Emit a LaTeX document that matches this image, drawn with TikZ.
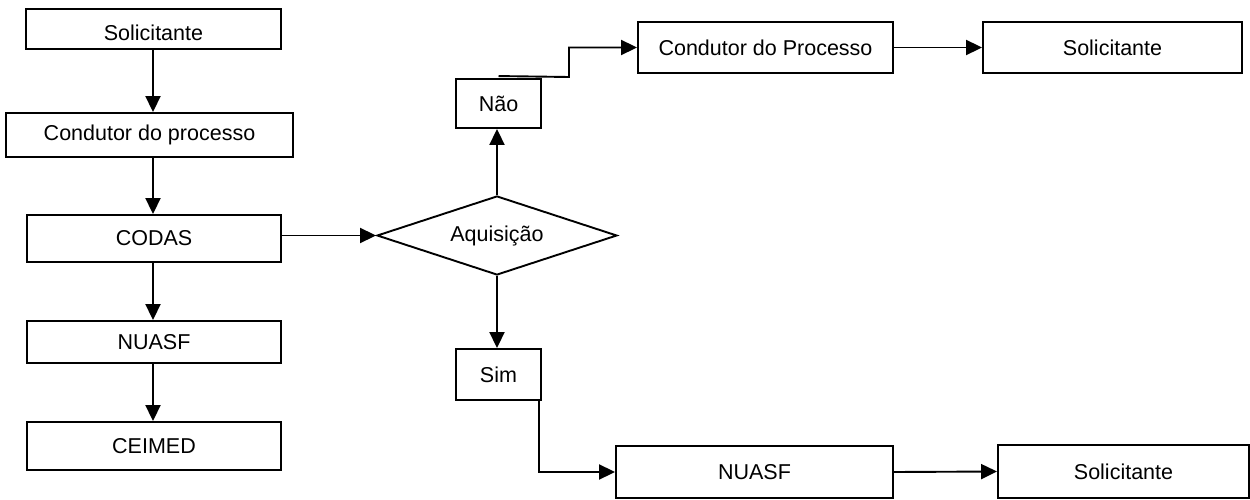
\documentclass[tikz,border=0pt]{standalone}
\usepackage{fontspec}
\setmainfont{Liberation Sans}
\usetikzlibrary{shapes.geometric,arrows.meta}
\begin{document}
\begin{tikzpicture}[x=1pt,y=-1pt,
  font=\fontsize{21.5}{25}\selectfont,
  box/.style={draw=black,line width=1.9pt,inner sep=0pt,minimum width=#1},
  conn/.style={line width=1.9pt,-{Triangle[length=16pt,width=15pt]}},
  plain/.style={line width=1.9pt}]
\useasboundingbox (0,0) rectangle (1250,500);
% left column
\node[box=255pt,minimum height=40pt,text height=23.5pt,text depth=0pt] (s1) at (153.5,29) {Solicitante};
\node[box=287pt,minimum height=44pt] (c1) at (149.5,135) {Condutor do processo};
\node[box=254pt,minimum height=47pt] (codas) at (154,238.5) {CODAS};
\node[box=254pt,minimum height=42pt] (nu1) at (154,342) {NUASF};
\node[box=254pt,minimum height=48pt] (ceimed) at (154,446) {CEIMED};
% decision
\node[draw=black,line width=1.9pt,shape=diamond,aspect=3.04,inner sep=0pt,
      minimum width=240pt,minimum height=79pt] (dia) at (497,235.5) {Aquisição};
\node[box=85pt,minimum height=49pt] (nao) at (498.5,103.5) {Não};
\node[box=85pt,minimum height=51pt] (sim) at (498.5,374.5) {Sim};
% right side
\node[box=255pt,minimum height=51pt] (cp2) at (765.5,47.5) {Condutor do Processo};
\node[box=259pt,minimum height=51pt] (s2) at (1112.5,47.5) {Solicitante};
\node[box=277pt,minimum height=52pt] (nu2) at (754.5,472) {NUASF};
\node[box=251pt,minimum height=53pt] (s3) at (1123.5,471.5) {Solicitante};
\coordinate (nbend) at (569,77);
% connectors
\draw[conn] (s1.south -| 153,0) -- (c1.north -| 153,0);
\draw[conn] (c1.south -| 153,0) -- (codas.north -| 153,0);
\draw[conn] (codas.south -| 153,0) -- (nu1.north -| 153,0);
\draw[conn] (nu1.south -| 153,0) -- (ceimed.north -| 153,0);
\draw[conn] (codas.east |- dia.west) -- (dia.west);
\draw[conn] (dia.north) -- (dia.north |- nao.south);
\draw[conn] (dia.south) -- (dia.south |- sim.north);
\draw[conn] ([yshift=2pt]nao.north) -- (nbend) |- (cp2.west);
\draw[conn] (cp2.east) -- (s2.west);
\draw[conn] ([xshift=-3pt]sim.south east) |- (nu2.west);
\draw[conn] (nu2.east) -- (s3.west);
\end{tikzpicture}
\end{document}
